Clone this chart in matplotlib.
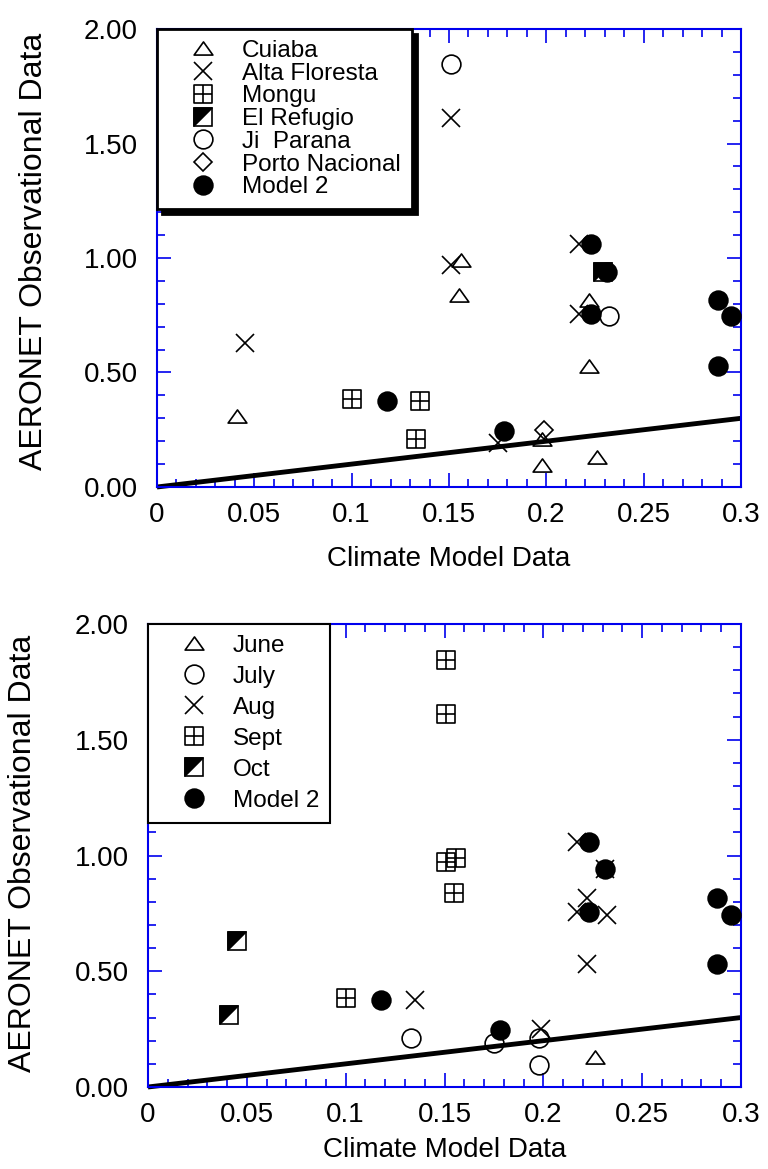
import matplotlib
matplotlib.use('Agg')
import matplotlib.pyplot as plt
from matplotlib.path import Path
from matplotlib.ticker import MultipleLocator, FuncFormatter

plt.rcParams['font.family'] = ['Liberation Sans', 'DejaVu Sans']

# ---- top panel: by site ----
cuiaba_x = [0.041, 0.155, 0.156, 0.198, 0.198, 0.226, 0.222, 0.222]
cuiaba_y = [0.31, 0.84, 0.99, 0.21, 0.095, 0.13, 0.53, 0.815]
alta_x = [0.045, 0.175, 0.217, 0.217, 0.151, 0.151]
alta_y = [0.63, 0.19, 1.06, 0.755, 0.97, 1.61]
mongu_x = [0.100, 0.135, 0.133]
mongu_y = [0.385, 0.375, 0.21]
refugio_x = [0.229]
refugio_y = [0.94]
jiparana_x = [0.232, 0.151]
jiparana_y = [0.745, 1.845]
porto_x = [0.199]
porto_y = [0.25]

# ---- bottom panel: by month ----
june_x = [0.226]
june_y = [0.13]
july_x = [0.133, 0.175, 0.198, 0.198]
july_y = [0.21, 0.19, 0.21, 0.095]
aug_x = [0.135, 0.199, 0.222, 0.222, 0.217, 0.231, 0.217, 0.232]
aug_y = [0.375, 0.25, 0.53, 0.815, 1.06, 0.94, 0.755, 0.745]
sept_x = [0.100, 0.155, 0.156, 0.151, 0.151, 0.151]
sept_y = [0.385, 0.84, 0.99, 0.97, 1.61, 1.845]
oct_x = [0.045, 0.041]
oct_y = [0.63, 0.31]

# Model 2 (same in both panels)
model_x = [0.118, 0.178, 0.223, 0.231, 0.223, 0.288, 0.295, 0.288]
model_y = [0.375, 0.245, 1.06, 0.94, 0.755, 0.815, 0.745, 0.53]

# 1:1 line
line_x = [0, 0.3]
line_y = [0, 0.3]

# custom markers
M, L, C = Path.MOVETO, Path.LINETO, Path.CLOSEPOLY
grid_sq = Path([(-1, -1), (1, -1), (1, 1), (-1, 1), (-1, -1), (0, -1), (0, 1), (-1, 0), (1, 0)],
               [M, L, L, L, C, M, L, M, L])
tri = Path([(0, 0.7), (-1, -0.7), (1, -0.7), (0, 0.7)], [M, L, L, C])
half = Path([(-1, -1), (-1, 1), (1, 1), (-1, -1)], [M, L, L, C])

MS = 13.5
MEW = 1.2
BLUE = '#0000ee'


def style_axes(ax, xlab_y, ylab_y):
    ax.set_xlim(0, 0.3)
    ax.set_ylim(0, 2.0)
    ax.xaxis.set_major_locator(MultipleLocator(0.05))
    ax.xaxis.set_minor_locator(MultipleLocator(0.01))
    ax.yaxis.set_major_locator(MultipleLocator(0.5))
    ax.yaxis.set_minor_locator(MultipleLocator(0.1))
    ax.xaxis.set_major_formatter(FuncFormatter(lambda v, p: f'{v:g}'))
    ax.yaxis.set_major_formatter(FuncFormatter(lambda v, p: f'{v:.2f}'))
    ax.tick_params(which='both', direction='in', top=True, right=True,
                   color=BLUE, width=1.2, labelsize=20)
    ax.tick_params(which='major', length=10)
    ax.tick_params(which='minor', length=6)
    ax.tick_params(axis='x', pad=11)
    ax.tick_params(axis='y', pad=14)
    for s in ax.spines.values():
        s.set_color(BLUE)
        s.set_linewidth(1.5)
    ax.plot(line_x, line_y, color='black', lw=3.5, solid_capstyle='butt', clip_on=False, zorder=2)
    ax.set_xlabel('Climate Model Data', fontsize=20)
    ax.set_ylabel('AERONET Observational Data', fontsize=23)
    ax.xaxis.set_label_coords(0.5, xlab_y)
    ax.yaxis.set_label_coords(-0.185, ylab_y)


def pts(ax, x, y, marker, ms=MS, fc='none', z=4):
    h, = ax.plot(x, y, ls='none', marker=marker, ms=ms, mfc=fc, mec='black',
                 mew=MEW, zorder=z, clip_on=False)
    return h


fig = plt.figure(figsize=(7.68, 11.69), dpi=100)

# ---------------- top ----------------
ax1 = fig.add_axes([157 / 768, 1 - 487 / 1169, 584 / 768, 458 / 1169])
style_axes(ax1, -0.128, 0.515)
hm = pts(ax1, model_x, model_y, 'o', ms=13.5, fc='black', z=3)
h1 = pts(ax1, cuiaba_x, cuiaba_y, tri)
h2 = pts(ax1, alta_x, alta_y, 'x', ms=13)
h3 = pts(ax1, mongu_x, mongu_y, grid_sq)
h4a = pts(ax1, refugio_x, refugio_y, 's')
h4b = pts(ax1, refugio_x, refugio_y, half, fc='black')
h5 = pts(ax1, jiparana_x, jiparana_y, 'o')
h6 = pts(ax1, porto_x, porto_y, 'D', ms=9.5)
leg1 = ax1.legend([h1, h2, h3, (h4a, h4b), h5, h6, hm],
                  ['Cuiaba', 'Alta Floresta', 'Mongu', 'El Refugio', 'Ji  Parana',
                   'Porto Nacional', 'Model 2'],
                  loc='upper left', bbox_to_anchor=(0, 1), borderaxespad=0,
                  fancybox=False, edgecolor='black', framealpha=1, fontsize=17.5,
                  handlelength=2.9, handletextpad=0.15, borderpad=0.45,
                  labelspacing=0.03, numpoints=1,
                  shadow={'ox': 3.5, 'oy': -3.5, 'color': 'black', 'alpha': 1})
leg1.get_frame().set_linewidth(2)
leg1.set_zorder(10)

# ---------------- bottom ----------------
ax2 = fig.add_axes([148 / 768, 1 - 1087 / 1169, 593 / 768, 463 / 1169])
style_axes(ax2, -0.108, 0.505)
gm = pts(ax2, model_x, model_y, 'o', ms=13.5, fc='black', z=3)
g1 = pts(ax2, june_x, june_y, tri)
g2 = pts(ax2, july_x, july_y, 'o')
g3 = pts(ax2, aug_x, aug_y, 'x', ms=13)
g4 = pts(ax2, sept_x, sept_y, grid_sq)
g5a = pts(ax2, oct_x, oct_y, 's')
g5b = pts(ax2, oct_x, oct_y, half, fc='black')
leg2 = ax2.legend([g1, g2, g3, g4, (g5a, g5b), gm],
                  ['June', 'July', 'Aug', 'Sept', 'Oct', 'Model 2'],
                  loc='upper left', bbox_to_anchor=(0, 1), borderaxespad=0,
                  fancybox=False, edgecolor='black', framealpha=1, fontsize=17.5,
                  handlelength=2.9, handletextpad=0.15, borderpad=0.45,
                  labelspacing=0.37, numpoints=1)
leg2.get_frame().set_linewidth(1.5)
leg2.set_zorder(10)

fig.savefig('out.png', dpi=100)
